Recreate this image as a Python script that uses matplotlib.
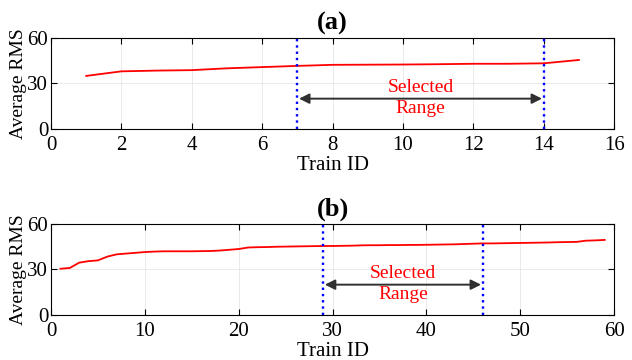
import numpy as np
import matplotlib
matplotlib.use("Agg")
import matplotlib.pyplot as plt

plt.rcParams['font.family'] = ['Liberation Serif', 'DejaVu Serif']

# panel (a)
train_a = list(range(1, 16))
rms_a = [35, 38, 38.5, 38.8, 40, 40.8, 41.6, 42.3, 42.4, 42.5, 42.7, 43, 43, 43.3, 45.5]
range_a = (7, 14)

# panel (b)
train_b = list(range(1, 60))
rms_b = [30.5, 31, 34.5, 35.5, 36, 38.5, 40, 40.5, 41, 41.5,
         41.8, 42, 42, 42, 42, 42.1, 42.2, 42.5, 43, 43.5,
         44.5, 44.7, 44.8, 45, 45.1, 45.2, 45.3, 45.4, 45.5, 45.5,
         45.6, 45.7, 45.9, 46, 46, 46.1, 46.1, 46.2, 46.2, 46.3,
         46.4, 46.5, 46.6, 46.8, 47, 47.2, 47.2, 47.3, 47.4, 47.5,
         47.6, 47.7, 47.8, 48, 48.1, 48.2, 49, 49.2, 49.5]
range_b = (29, 46)

fig = plt.figure(figsize=(6.32, 3.6), dpi=100)
ax1 = fig.add_axes([0.0807, 0.6417, 0.891, 0.2528])
ax2 = fig.add_axes([0.0807, 0.125, 0.891, 0.2528])


def panel(ax, x, y, sel, xmax, xstep, title):
    ax.plot(x, y, color='red', lw=1.3)
    for v in sel:
        ax.axvline(v, color='blue', ls=':', lw=1.7)
    ax.annotate('', xy=(sel[0] + 0.003 * xmax, 20), xytext=(sel[1] - 0.003 * xmax, 20),
                arrowprops=dict(arrowstyle='<|-|>', color='#303030', lw=1.4,
                                mutation_scale=15, shrinkA=0, shrinkB=0))
    mid = (sel[0] + sel[1]) / 2
    ax.text(mid, 27.5, 'Selected', color='red', ha='center', va='center', fontsize=14)
    ax.text(mid, 13.5, 'Range', color='red', ha='center', va='center', fontsize=14)
    ax.set_xlim(0, xmax)
    ax.set_ylim(0, 60)
    ax.set_xticks(np.arange(0, xmax + 1, xstep))
    ax.set_yticks([0, 30, 60])
    ax.grid(True, color='#e6e6e6', lw=0.6)
    ax.tick_params(direction='in', top=True, right=True, labelsize=15, length=4)
    ax.tick_params(axis='x', pad=5)
    ax.tick_params(axis='y', pad=2)
    ax.set_xlabel('Train ID', fontsize=15, labelpad=1)
    ax.set_ylabel('Average RMS', fontsize=14, labelpad=0)
    ax.set_title(title, fontsize=19, fontweight='bold', pad=6)


panel(ax1, train_a, rms_a, range_a, 16, 2, '(a)')
panel(ax2, train_b, rms_b, range_b, 60, 10, '(b)')

fig.savefig('out.png', dpi=100)
